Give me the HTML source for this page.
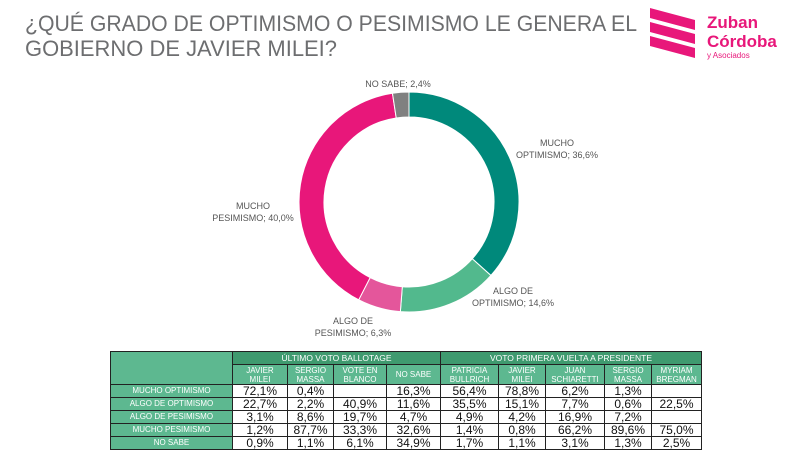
<!DOCTYPE html>
<html><head><meta charset="utf-8"><style>
body{margin:0;width:800px;height:460px;background:#fff;overflow:hidden;font-family:"Liberation Sans",sans-serif;position:relative}
svg{position:absolute;left:0;top:0}
table{position:absolute;left:110px;top:351px;border-collapse:collapse;font-size:12px;table-layout:fixed}
td{border:1px solid #222;padding:0;text-align:center;height:12px;line-height:12px;color:#111}
td.h{background:#5db890;color:#fff;font-size:8px;line-height:9px}
td.top{background:#3f9a6f;color:#fff;font-size:8.5px}
td.r{background:#5db890;color:#fff;font-size:8px}
</style></head><body>
<svg width="800" height="460">
<text x="25" y="31" font-size="22" fill="#6d6e70" textLength="612" lengthAdjust="spacingAndGlyphs">¿QUÉ GRADO DE OPTIMISMO O PESIMISMO LE GENERA EL</text>
<text x="25" y="56" font-size="22" fill="#6d6e70" textLength="312" lengthAdjust="spacingAndGlyphs">GOBIERNO DE JAVIER MILEI?</text>
<g fill="#e8177a">
<polygon points="650,8 695,20 695,30 650,18"/>
<polygon points="650,22 695,34 695,44 650,32"/>
<polygon points="650,36 695,48 695,58 650,46"/>
<text x="707" y="28" font-size="17" font-weight="bold">Zuban</text>
<text x="707" y="47" font-size="17" font-weight="bold">Córdoba</text>
<text x="707" y="58" font-size="8">y Asociados</text>
</g>
<g id="donut"></g>
<g font-size="9" fill="#555" text-anchor="middle">
<text x="398" y="87">NO SABE; 2,4%</text>
<text x="557" y="146">MUCHO</text><text x="557" y="158">OPTIMISMO; 36,6%</text>
<text x="513" y="294">ALGO DE</text><text x="513" y="306">OPTIMISMO; 14,6%</text>
<text x="353" y="324">ALGO DE</text><text x="353" y="336">PESIMISMO; 6,3%</text>
<text x="253" y="209">MUCHO</text><text x="253" y="221">PESIMISMO; 40,0%</text>
</g>
</svg>
<table>
<colgroup><col style="width:122px"><col style="width:55px"><col style="width:46px"><col style="width:53px"><col style="width:54px"><col style="width:58px"><col style="width:47px"><col style="width:59px"><col style="width:47px"><col style="width:50px"></colgroup>
<tr><td class="h" rowspan="2"></td><td class="top" colspan="4">ÚLTIMO VOTO BALLOTAGE</td><td class="top" colspan="5">VOTO PRIMERA VUELTA A PRESIDENTE</td></tr>
<tr style="height:20px"><td class="h">JAVIER<br>MILEI</td><td class="h">SERGIO<br>MASSA</td><td class="h">VOTE EN<br>BLANCO</td><td class="h">NO SABE</td><td class="h">PATRICIA<br>BULLRICH</td><td class="h">JAVIER<br>MILEI</td><td class="h">JUAN<br>SCHIARETTI</td><td class="h">SERGIO<br>MASSA</td><td class="h">MYRIAM<br>BREGMAN</td></tr>
<tr><td class="r">MUCHO OPTIMISMO</td><td>72,1%</td><td>0,4%</td><td></td><td>16,3%</td><td>56,4%</td><td>78,8%</td><td>6,2%</td><td>1,3%</td><td></td></tr>
<tr><td class="r">ALGO DE OPTIMISMO</td><td>22,7%</td><td>2,2%</td><td>40,9%</td><td>11,6%</td><td>35,5%</td><td>15,1%</td><td>7,7%</td><td>0,6%</td><td>22,5%</td></tr>
<tr><td class="r">ALGO DE PESIMISMO</td><td>3,1%</td><td>8,6%</td><td>19,7%</td><td>4,7%</td><td>4,9%</td><td>4,2%</td><td>16,9%</td><td>7,2%</td><td></td></tr>
<tr><td class="r">MUCHO PESIMISMO</td><td>1,2%</td><td>87,7%</td><td>33,3%</td><td>32,6%</td><td>1,4%</td><td>0,8%</td><td>66,2%</td><td>89,6%</td><td>75,0%</td></tr>
<tr><td class="r">NO SABE</td><td>0,9%</td><td>1,1%</td><td>6,1%</td><td>34,9%</td><td>1,7%</td><td>1,1%</td><td>3,1%</td><td>1,3%</td><td>2,5%</td></tr>
</table>
<script>
const categories=["MUCHO OPTIMISMO","ALGO DE OPTIMISMO","ALGO DE PESIMISMO","MUCHO PESIMISMO","NO SABE"];
const values=[36.6,14.6,6.3,40.0,2.4];
const colors=["#00897b","#52b98d","#e4569b","#e8177a","#808080"];
const cx=409,cy=202,R=110,r=85;
const g=document.getElementById('donut');
const total=values.reduce((a,b)=>a+b,0);
let a0=0;
function pt(rad,a){return [cx+rad*Math.sin(a),cy-rad*Math.cos(a)];}
values.forEach((v,i)=>{
 const a1=a0+v/total*2*Math.PI;
 const large=(a1-a0)>Math.PI?1:0;
 const p1=pt(R,a0),p2=pt(R,a1),p3=pt(r,a1),p4=pt(r,a0);
 const p=document.createElementNS('http://www.w3.org/2000/svg','path');
 p.setAttribute('d',`M${p1}A${R},${R} 0 ${large} 1 ${p2}L${p3}A${r},${r} 0 ${large} 0 ${p4}Z`);
 p.setAttribute('fill',colors[i]);p.setAttribute('stroke','#fff');p.setAttribute('stroke-width','1');
 
 
 g.appendChild(p);a0=a1;
});
</script>
</body></html>
